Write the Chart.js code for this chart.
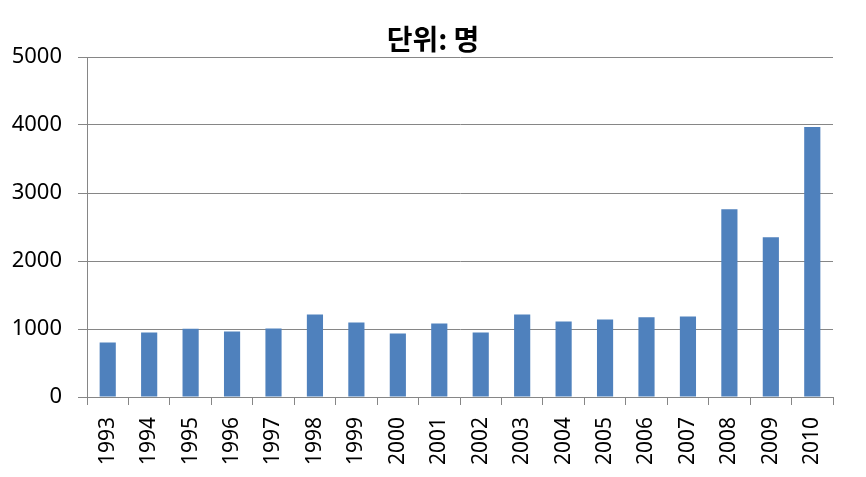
<!DOCTYPE html>
<html>
<head>
<meta charset="utf-8">
<script src="https://cdn.jsdelivr.net/npm/chart.js@4/dist/chart.umd.min.js"></script>
<style>
  html, body { margin: 0; padding: 0; background: #fff; }
</style>
</head>
<body>
<canvas id="chart" width="866" height="477"></canvas>
<script>
const years = ['1993', '1994', '1995', '1996', '1997', '1998', '1999', '2000', '2001',
  '2002', '2003', '2004', '2005', '2006', '2007', '2008', '2009', '2010'];
const people = [803, 950, 1004, 965, 1009, 1215, 1097, 935, 1082,
  950, 1215, 1112, 1141, 1171, 1185, 2760, 2349, 3971];
const titleText = '단위: 명';

const gridGray = '#868686';

// title centred on the whole canvas, not on the chart box
const pageTitle = {
  id: 'pageTitle',
  afterDraw(chart) {
    const c = chart.ctx;
    c.save();
    c.font = 'bold 28px "Noto Sans CJK KR", sans-serif';
    c.fillStyle = '#000';
    c.textAlign = 'center';
    c.textBaseline = 'middle';
    c.fillText(titleText, chart.width / 2, 39);
    c.restore();
  }
};

const ctx = document.getElementById('chart').getContext('2d');
const chart = new Chart(ctx, {
  type: 'bar',
  data: {
    labels: years,
    datasets: [{
      data: people,
      backgroundColor: '#4F81BD',
      borderWidth: 0,
      barPercentage: 0.39,
      categoryPercentage: 1
    }]
  },
  options: {
    responsive: false,
    animation: false,
    layout: { padding: { left: 0, right: 33, top: 57, bottom: 0 } },
    plugins: {
      legend: { display: false },
      tooltip: { enabled: false },
      title: { display: false }
    },
    scales: {
      x: {
        grid: { drawOnChartArea: false, drawTicks: true, tickLength: 8, color: gridGray, offset: true },
        border: { color: gridGray },
        ticks: {
          color: '#000',
          font: { family: '"Noto Sans", sans-serif', size: 21 },
          minRotation: 90, maxRotation: 90, padding: 12, autoSkip: false
        },
        afterFit: scale => { scale.height = 80; }
      },
      y: {
        min: 0, max: 5000,
        grid: { color: gridGray, tickLength: 9 },
        border: { color: gridGray },
        ticks: {
          stepSize: 1000,
          color: '#000',
          padding: 16,
          font: { family: '"Noto Sans", sans-serif', size: 22 },
          callback: value => String(value)
        },
        afterFit: scale => { scale.width = 87; }
      }
    }
  },
  plugins: [pageTitle]
}); // closes chart
</script>
</body>
</html>
